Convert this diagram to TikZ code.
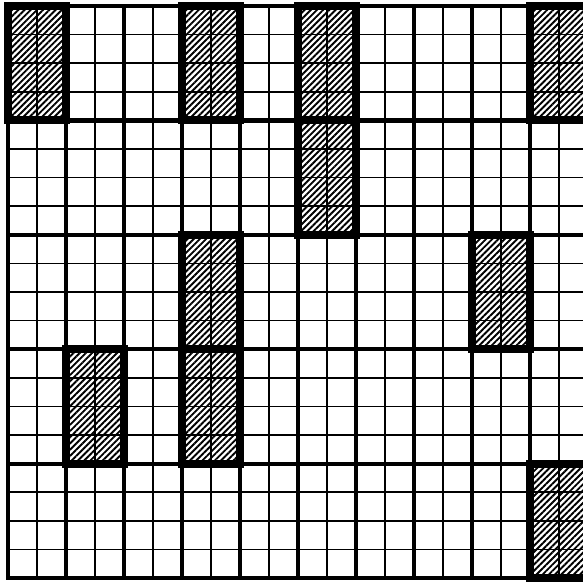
\documentclass[tikz,border=0pt]{standalone}
\usetikzlibrary{patterns.meta}

\begin{document}
\begin{tikzpicture}[x=1pt, y=-1pt,
	fine/.style={line width=1.5pt},
	bold/.style={line width=4.2pt},
	hatch/.style={pattern={Lines[angle=45, distance=4.4pt, line width=1.9pt]}},
	marked/.style={line width=8pt, line join=miter}]
	\useasboundingbox (0,0) rectangle (583,582);
	\clip (0,0) rectangle (583,582);
	% hatched fill of the marked blocks
	\foreach \c/\r in {0/0,3/0,5/0,9/0,5/1,3/2,8/2,1/3,3/3,9/4}
		\fill[hatch] (8+58*\c,6+114.4*\r) rectangle (66+58*\c,120.4+114.4*\r);
	% fine cells
	\foreach \i in {0,...,20} \draw[fine] (8+29*\i,6) -- (8+29*\i,578);
	\foreach \j in {0,...,20} \draw[fine] (8,6+28.6*\j) -- (588,6+28.6*\j);
	% blocks
	\foreach \i in {0,...,10} \draw[bold] (8+58*\i,6) -- (8+58*\i,578);
	\foreach \j in {0,...,5} \draw[bold] (6,6+114.4*\j) -- (590,6+114.4*\j);
	% borders of the marked blocks
	\foreach \c/\r in {0/0,3/0,5/0,9/0,5/1,3/2,8/2,1/3,3/3,9/4}
		\draw[marked] (8+58*\c,6+114.4*\r) rectangle (66+58*\c,120.4+114.4*\r);
\end{tikzpicture}
\end{document}
